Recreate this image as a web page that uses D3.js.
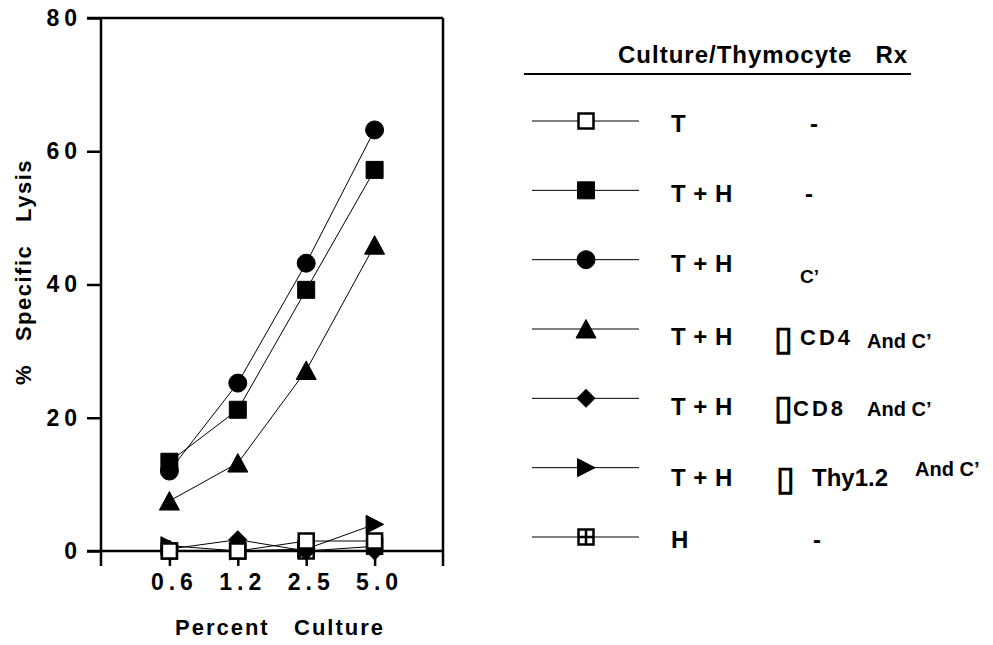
<!DOCTYPE html>
<html lang="en">
<head>
    <meta charset="UTF-8">
    <title>Specific Lysis vs Percent Culture</title>
    <style>
        body { margin: 0; background: #fff; }
        svg text { font-family: "Liberation Sans", Arial, sans-serif; font-weight: bold; fill: #000; white-space: pre; }
    </style>
    <script src="https://d3js.org/d3.v7.min.js"></script>
</head>
<body>
    <svg width="993" height="645"></svg>
    <script>
        // data
        const doses = ["0.6", "1.2", "2.5", "5.0"];
        const yTicks = [0, 20, 40, 60, 80];
        const tOnly   = [0, 0, 1.5, 1.5];
        const tH      = [13.4, 21.2, 39.2, 57.2];
        const tHC     = [12.0, 25.2, 43.2, 63.2];
        const tHCD4   = [7.5, 13.2, 27.1, 45.9];
        const tHCD8   = [0.3, 1.7, 0, 0];
        const tHThy   = [0.8, 0, 0.3, 4.0];
        const hOnly   = [0, 0, 0, 0.7];
        const cultureLabels = ["T", "T + H", "T + H", "T + H", "T + H", "T + H", "H"];
        const legendShapes = ["open", "square", "circle", "triangle", "diamond", "right", "cross"];

        const series = [
            { values: hOnly, shape: "cross" },
            { values: tHCD8, shape: "diamond" },
            { values: tHThy, shape: "right" },
            { values: tHCD4, shape: "triangle" },
            { values: tH, shape: "square" },
            { values: tHC, shape: "circle" },
            { values: tOnly, shape: "open" }
        ];

        const svg = d3.select("svg");

        const x = d3.scalePoint().domain(doses).range([101, 443]).padding(1);
        const y = d3.scaleLinear().domain([0, 80]).range([551, 18]);

        // marker shapes, centred on 0,0
        function shapePath(shape) {
            const p = d3.path();
            if (shape === "open" || shape === "square" || shape === "cross") {
                const s = shape === "square" ? 17 : 15;
                p.rect(-s / 2, -s / 2, s, s);
                if (shape === "cross") {
                    p.moveTo(0, -s / 2); p.lineTo(0, s / 2);
                    p.moveTo(-s / 2, 0); p.lineTo(s / 2, 0);
                }
            } else if (shape === "circle") {
                p.arc(0, 0, 9, 0, 2 * Math.PI);
            } else if (shape === "triangle") {
                p.moveTo(0, -9.5); p.lineTo(10, 9); p.lineTo(-10, 9); p.closePath();
            } else if (shape === "diamond") {
                p.moveTo(0, -9); p.lineTo(9, 0); p.lineTo(0, 9); p.lineTo(-9, 0); p.closePath();
            } else if (shape === "right") {
                p.moveTo(-8.5, -9); p.lineTo(9, 0); p.lineTo(-8.5, 9); p.closePath();
            }
            return p.toString();
        }
        function styleMarker(sel, shape) {
            const hollow = shape === "open" || shape === "cross";
            sel.attr("d", shapePath(shape))
                .attr("fill", hollow ? "#fff" : "#000")
                .attr("stroke", "#000")
                .attr("stroke-width", hollow ? 2.5 : 1);
        }

        // spread the digits with per-glyph dx so anchors stay exact
        function spread(sel, gap) {
            sel.attr("font-size", 23)
                .attr("dx", function () {
                    const n = this.textContent.length;
                    return d3.range(n).map(i => (i === 0 ? 0 : gap)).join(" ");
                });
        }

        // axes
        const yAxis = svg.append("g")
            .attr("transform", "translate(101,0)")
            .call(d3.axisLeft(y).tickValues(yTicks).tickSize(14).tickPadding(10).tickFormat(d3.format("d")));
        yAxis.select(".domain").remove();
        yAxis.selectAll(".tick line").attr("stroke", "#000").attr("stroke-width", 2.5);
        yAxis.selectAll(".tick text").call(spread, 5);

        const xAxis = svg.append("g")
            .attr("transform", `translate(0,${y(0)})`)
            .call(d3.axisBottom(x).tickSize(15).tickPadding(8));
        xAxis.select(".domain").remove();
        xAxis.selectAll(".tick line").attr("stroke", "#000").attr("stroke-width", 2.5);
        xAxis.selectAll(".tick text").call(spread, 5).attr("x", 2);

        // frame
        const frame = svg.append("g").attr("stroke", "#000").attr("stroke-width", 2.5);
        frame.append("line").attr("x1", 101).attr("x2", 101).attr("y1", y(80)).attr("y2", y(0) + 15);
        frame.append("line").attr("x1", 443).attr("x2", 443).attr("y1", y(80)).attr("y2", y(0) + 15);
        frame.append("line").attr("x1", 87).attr("x2", 443).attr("y1", y(80)).attr("y2", y(80));
        frame.append("line").attr("x1", 87).attr("x2", 443).attr("y1", y(0)).attr("y2", y(0));

        // axis titles
        svg.append("text")
            .attr("transform", "translate(31,272) rotate(-90)")
            .attr("text-anchor", "middle")
            .attr("font-size", 22)
            .attr("letter-spacing", 1.5)
            .text("%   Specific   Lysis");
        svg.append("text")
            .attr("x", 280).attr("y", 635)
            .attr("text-anchor", "middle")
            .attr("font-size", 22)
            .attr("letter-spacing", 2)
            .text("Percent   Culture");

        // series
        const line = d3.line().x((d, i) => x(doses[i])).y(d => y(d));
        series.forEach(s => {
            svg.append("path")
                .attr("d", line(s.values))
                .attr("fill", "none")
                .attr("stroke", "#000")
                .attr("stroke-width", 1);
            svg.append("g").selectAll("path")
                .data(s.values)
                .join("path")
                .attr("transform", (d, i) => `translate(${x(doses[i])},${y(d)})`)
                .call(sel => styleMarker(sel, s.shape));
        });

        // legend
        const legend = svg.append("g");
        legend.append("text")
            .attr("x", 618).attr("y", 63)
            .attr("font-size", 24)
            .attr("letter-spacing", 1)
            .text("Culture/Thymocyte   Rx");
        legend.append("line")
            .attr("x1", 524).attr("x2", 911).attr("y1", 74).attr("y2", 74)
            .attr("stroke", "#000").attr("stroke-width", 2);

        const rowY = d3.scaleLinear().domain([0, 6]).range([121, 537]);
        const textDrop = [11, 12, 12, 16, 17, 18, 11];

        legendShapes.forEach((shape, i) => {
            const ry = rowY(i);
            legend.append("line")
                .attr("x1", 532).attr("x2", 639).attr("y1", ry).attr("y2", ry)
                .attr("stroke", "#000").attr("stroke-width", 1);
            legend.append("path")
                .attr("transform", `translate(586,${ry})`)
                .call(sel => styleMarker(sel, shape));
            legend.append("text")
                .attr("x", 671).attr("y", ry + textDrop[i])
                .attr("font-size", 24)
                .attr("letter-spacing", 0.5)
                .text(cultureLabels[i]);
        });

        // treatment column
        function rx(xp, yp, size, str, ls) {
            return legend.append("text")
                .attr("x", xp).attr("y", yp)
                .attr("font-size", size)
                .attr("letter-spacing", ls || 0)
                .text(str);
        }
        function box(xp, yp) {
            return legend.append("text")
                .attr("x", xp).attr("y", yp)
                .attr("font-size", 34)
                .attr("font-weight", "normal")
                .attr("font-family", "DejaVu Sans, sans-serif")
                .text("\u25AF");
        }
        rx(810, rowY(0) + 11, 24, "-");
        rx(805, rowY(1) + 12, 24, "-");
        rx(800, rowY(2) + 23, 19, "C\u2019");
        box(774, rowY(3) + 21);
        rx(800, rowY(3) + 16, 22, "CD4", 3);
        rx(867, rowY(3) + 19, 20, "And C\u2019");
        box(774, rowY(4) + 21);
        rx(793, rowY(4) + 18, 22, "CD8", 3);
        rx(867, rowY(4) + 18, 20, "And C\u2019");
        box(776, rowY(5) + 22);
        rx(812, rowY(5) + 18, 24, "Thy1.2");
        rx(915, rowY(5) + 8, 20, "And C\u2019");
        rx(813, rowY(6) + 11, 24, "-");
    </script>
</body>
</html>
